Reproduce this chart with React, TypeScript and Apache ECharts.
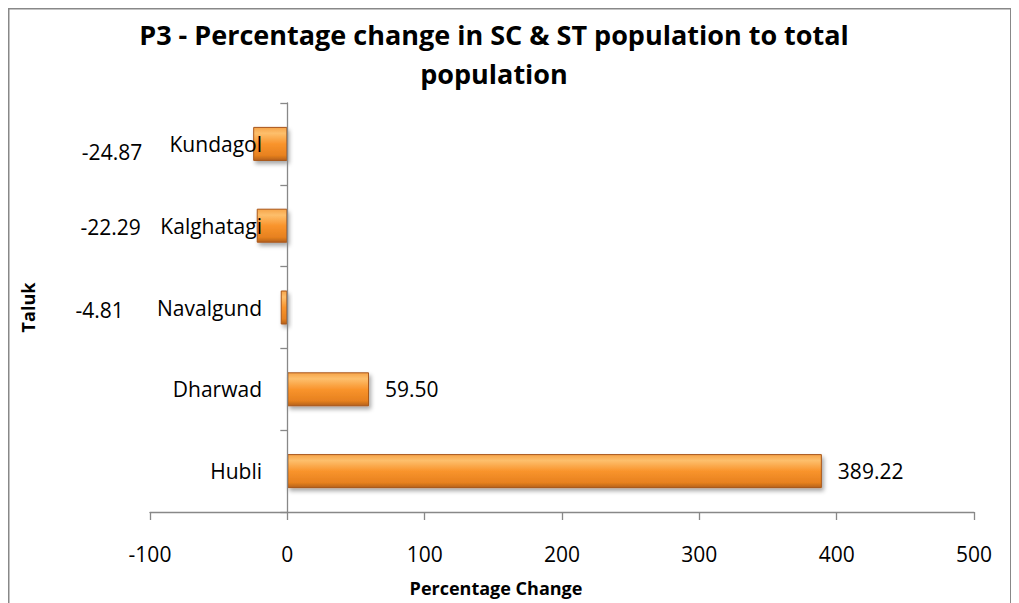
import React, { useEffect, useRef } from "react";
import * as echarts from "echarts";

const categories = ["Hubli", "Dharwad", "Navalgund", "Kalghatagi", "Kundagol"];
const values = [389.22, 59.5, -4.81, -22.29, -24.87];
const xTicks = { min: -100, max: 500, interval: 100 };
const titleText = "P3 - Percentage change in SC & ST population to total\npopulation";
const xName = "Percentage Change";
const yName = "Taluk";

const FONT = "'Open Sans', 'Liberation Sans', sans-serif";
// label placement (manually placed in the original)
const labelDistance = [16, 16, 157, 116, 111];
const labelOffsetY = [0, 0, 2, 1, 8];

export default function App() {
  const ref = useRef<HTMLDivElement>(null);
  useEffect(() => {
    const chart = echarts.init(ref.current!, null, { renderer: "svg" });
    const barColor = new echarts.graphic.LinearGradient(0, 0, 0, 1, [
      { offset: 0, color: "#f6a449" },
      { offset: 0.18, color: "#fdbf6c" },
      { offset: 0.5, color: "#f9942c" },
      { offset: 0.85, color: "#e7811f" },
      { offset: 1, color: "#b4611b" },
    ]);
    chart.setOption({
      animation: false,
      backgroundColor: "#ffffff",
      title: {
        text: titleText,
        left: 481,
        textAlign: "center",
        top: 2,
        textStyle: {
          fontFamily: FONT,
          fontWeight: "bold",
          fontSize: 27,
          lineHeight: 39,
          color: "#000",
        },
      },
      graphic: [
        {
          type: "rect",
          shape: { x: 0.75, y: 0.75, width: 1002, height: 620 },
          style: { fill: "none", stroke: "#888", lineWidth: 1.5 },
          silent: true,
        },
      ],
      grid: { left: 142, right: 37, top: 95, bottom: 91, containLabel: false, outerBoundsMode: "none" },
      xAxis: {
        type: "value",
        min: xTicks.min,
        max: xTicks.max,
        interval: xTicks.interval,
        name: xName,
        nameLocation: "middle",
        nameGap: 67,
        nameTextStyle: {
          fontFamily: FONT,
          fontWeight: "bold",
          fontSize: 18,
          color: "#000",
          padding: [0, 132, 0, 0],
        },
        axisLine: { show: true, onZero: false, lineStyle: { color: "#888", width: 1.3 } },
        axisTick: { show: true, length: 8, lineStyle: { color: "#888", width: 1.3 } },
        axisLabel: { fontFamily: FONT, fontSize: 21, color: "#000", margin: 31 },
        splitLine: { show: false },
      },
      yAxis: {
        type: "category",
        data: categories,
        z: 5,
        name: yName,
        nameLocation: "middle",
        nameGap: 113,
        nameRotate: 90,
        nameTextStyle: { fontFamily: FONT, fontWeight: "bold", fontSize: 18, color: "#000" },
        axisLine: { show: true, onZero: true, lineStyle: { color: "#888", width: 1.3 } },
        axisTick: { show: true, length: 7, inside: false, lineStyle: { color: "#888", width: 1.3 } },
        axisLabel: { fontFamily: FONT, fontSize: 21, color: "#000", margin: -112 },
      },
      series: [
        {
          type: "bar",
          barWidth: 34,
          data: values.map((v, i) => ({
            value: v,
            label: {
              show: true,
              position: v >= 0 ? "right" : "left",
              distance: labelDistance[i],
              offset: [0, labelOffsetY[i]],
            },
          })),
          itemStyle: {
            color: barColor,
            borderColor: "#a8561a",
            borderWidth: 1,
            shadowColor: "rgba(0,0,0,0.35)",
            shadowBlur: 4,
            shadowOffsetX: 2,
            shadowOffsetY: 3,
          },
          label: {
            show: true,
            fontFamily: FONT,
            fontSize: 21,
            color: "#000",
            formatter: (p: any) => Number(p.value).toFixed(2),
          },
        },
      ],
    });
    return () => chart.dispose();
  }, []);
  return <div ref={ref} style={{ width: 1003, height: 595 }} />;
}
